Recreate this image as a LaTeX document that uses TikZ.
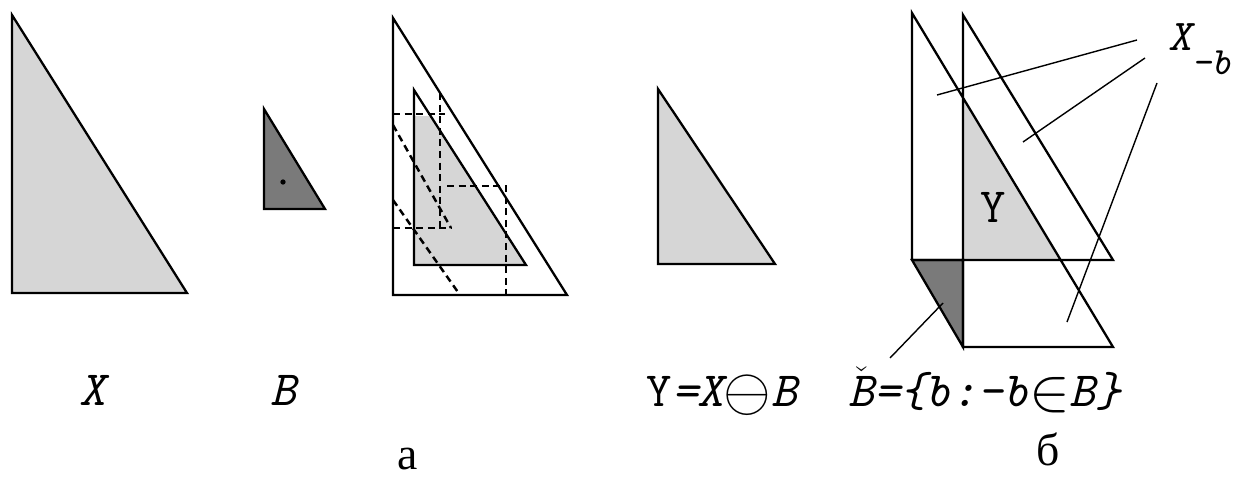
\documentclass[tikz,border=0pt]{standalone}
\usepackage{fontspec}
\usepackage{graphicx}
\newfontfamily\cyrfont{Liberation Serif}
\usetikzlibrary{positioning}
\definecolor{lightfill}{HTML}{D6D6D6}
\definecolor{darkfill}{HTML}{7A7A7A}
\newcommand{\bigop}[1]{\raisebox{-2.5pt}{\scalebox{1.4}{$#1$}}}
\tikzset{
  outline/.style={line width=1.3pt, line join=miter},
  dashcopy/.style={line width=1.4pt, dash pattern=on 4pt off 2.6pt},
  leader/.style={line width=0.8pt},
  setlabel/.style={anchor=base, inner sep=0pt, font=\fontsize{28}{32}\selectfont\ttfamily\itshape},
  partlabel/.style={anchor=base, inner sep=0pt, font=\fontsize{26}{30}\selectfont\cyrfont}
}
\begin{document}
\begin{tikzpicture}[x=0.02cm, y=-0.02cm]
    \useasboundingbox (0,0) rectangle (1255,477);
    % part a
    \draw[outline, fill=lightfill] (12,15) -- (12,293) -- (187,293) -- cycle;
    \draw[outline, fill=darkfill] (264,109) -- (264,209) -- (325,209) -- cycle;
    \fill (283,182) circle[radius=1.5pt];
    \begin{scope}
      \clip (405,116) rectangle (540,270);
      \fill[lightfill] (414,90) -- (414,265) -- (526,265) -- cycle;
    \end{scope}
    \draw[outline] (393,18) -- (393,295) -- (567,295) -- cycle;
    \draw[outline] (414,90) -- (414,265) -- (526,265) -- cycle;
    \draw[dashcopy] (393,114) -- (445,114);
    \draw[dashcopy] (440,93) -- (440,228);
    \draw[dashcopy] (393,228) -- (451,228);
    \draw[dashcopy] (447,186) -- (506,186) -- (506,295);
    \draw[dashcopy] (393,125) -- (451,228);
    \draw[dashcopy] (393,200) -- (460,295);
    \draw[outline, fill=lightfill] (658,89) -- (658,264) -- (775,264) -- cycle;
    % part b
    \fill[lightfill] (963,98) -- (963,260) -- (1060,260) -- cycle;
    \draw[outline, fill=darkfill] (912,260) -- (963,260) -- (963,347) -- cycle;
    \draw[outline] (912,260) -- (912,13) -- (1113,347) -- (963,347) -- (963,15) -- (1113,260) -- (912,260);
    \node[setlabel, font=\fontsize{28}{32}\selectfont\ttfamily] (ylab) at (993,222) {Y};
    % labels
    \node[setlabel] (xlab) at (92,405) {X};
    \node[setlabel] (blab) at (283,405) {B};
    \node[partlabel] (alab) at (408,469) {а};
    \node[setlabel] (erosion) at (722,406) {{\upshape Y}=X\bigop{\ominus}B};
    \node[setlabel] (reflect) at (985,406) {$\check{\mbox{B}}$=\{b:-b\bigop{\in}B\}};
    \node[partlabel] (blabel) at (1048,465) {б};
    \node[setlabel, anchor=base west, font=\fontsize{25}{28}\selectfont\ttfamily\itshape] (shifted) at (1168,50) {X\raisebox{-14pt}{\fontsize{22}{24}\selectfont -b}};
    % leaders
    \coordinate (s1) at (1137,40);
    \coordinate (s2) at (1145,58);
    \coordinate (s3) at (1157,83);
    \coordinate (t1) at (937,95);
    \coordinate (t2) at (1023,142);
    \coordinate (t3) at (1067,322);
    \draw[leader] (s1) -- (t1);
    \draw[leader] (s2) -- (t2);
    \draw[leader] (s3) -- (t3);
    \coordinate (r1) at (943,303);
    \coordinate (r2) at (890,358);
    \draw[leader] (r1) -- (r2);
  \end{tikzpicture}
\end{document}
